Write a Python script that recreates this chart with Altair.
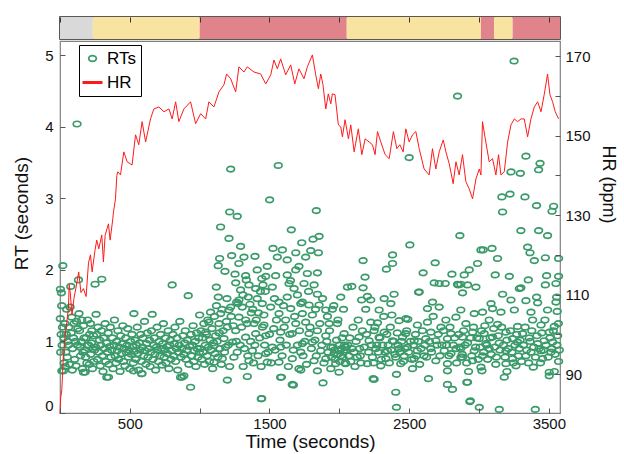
import altair as alt
import pandas as pd

# ---------------- data ----------------
phase_start = [0, 235, 1000, 2053, 3014, 3109, 3241]
phase_end = [235, 1000, 2053, 3014, 3109, 3241, 3580]
phase_name = ["rest", "easy", "hard", "easy", "hard", "easy", "hard"]

hr_time = [0, 5, 13, 22, 35, 48, 60, 66, 72, 86, 100, 122, 134, 150, 168, 187, 204, 218, 230, 250,
           263, 278, 299, 311, 323, 347, 359, 378, 383, 397, 407, 414, 433, 457, 481, 516, 541, 564,
           588, 613, 648, 672, 708, 744, 780, 803, 828, 851, 887, 935, 971, 1007, 1043, 1066, 1102,
           1138, 1174, 1193, 1222, 1258, 1281, 1317, 1341, 1389, 1437, 1473, 1509, 1532, 1556, 1580,
           1616, 1652, 1681, 1711, 1747, 1771, 1807, 1831, 1850, 1867, 1883, 1903, 1921, 1939, 1950,
           1969, 1993, 2010, 2022, 2041, 2065, 2082, 2106, 2136, 2161, 2185, 2213, 2237, 2256, 2273,
           2297, 2328, 2357, 2387, 2412, 2433, 2457, 2476, 2500, 2524, 2548, 2572, 2607, 2643, 2667,
           2691, 2715, 2744, 2763, 2787, 2815, 2835, 2858, 2882, 2906, 2930, 2954, 2978, 3002, 3014,
           3025, 3045, 3073, 3097, 3121, 3140, 3157, 3181, 3205, 3229, 3253, 3276, 3301, 3324, 3348,
           3372, 3396, 3420, 3444, 3467, 3491, 3508, 3527, 3546, 3570]
hr_value = [80, 84, 86, 93, 99, 103, 106.5, 112.5, 111, 104.9, 109, 113.2, 115.7, 110.5, 111.5, 109.5,
            118, 120, 115.7, 121, 123.7, 121.5, 125, 118.2, 124.9, 127.8, 123.7, 129, 130.8, 134, 140,
            140.9, 140.1, 145.9, 143.4, 142.6, 150.2, 147.7, 153.5, 148.4, 154.2, 156.7, 157.2, 156,
            156.7, 154.2, 158.5, 153.5, 156.7, 158.5, 153, 155.5, 154.2, 158.5, 157.2, 161, 162.8,
            165.5, 164.3, 161, 167.3, 166, 167.3, 166, 165.5, 163, 165.3, 169, 166.8, 169.3, 165.3,
            167.8, 163, 166.8, 164.3, 167.3, 170.3, 165.3, 161.8, 165.5, 162.8, 156.7, 160.5, 158,
            160.5, 160.3, 152.7, 152.2, 149.7, 154, 149.2, 152.7, 145.9, 151.7, 145.2, 149.2, 148.4,
            147.7, 145.2, 151, 148.4, 145.2, 144.2, 151, 146.7, 147.7, 145.9, 151.7, 148.4, 150.2, 151,
            146.7, 141.6, 140.1, 146.7, 141.6, 145.9, 148.9, 145.9, 142.9, 137.9, 143.4, 140.1, 145.2,
            138.4, 136.6, 134.1, 139.1, 141.6, 140.1, 153.5, 149.2, 143.4, 144.2, 140.1, 145.2, 140.1,
            140.9, 148.4, 152.7, 154.2, 153.5, 154.2, 154.2, 149.7, 154.2, 157.2, 158.5, 156, 160.3,
            165.5, 160.3, 158.5, 156, 154.2]

# reaction times (time s, RT s), grouped by part of the session
rts_a = [
    (3, 1.73), (10, 1.68), (20, 2.06), (2, 1.32), (8, 1.1), (15, 0.95), (25, 0.59), (30, 0.7), (35, 1.25),
    (42, 0.85), (48, 1.45), (55, 1.0), (62, 1.2), (72, 1.48), (77, 1.77), (84, 1.34), (90, 0.9), (96, 1.05),
    (105, 0.75), (122, 4.04), (118, 1.28), (125, 0.95), (132, 1.86), (136, 1.39), (140, 1.15), (147, 0.8),
    (152, 1.0), (160, 0.62), (168, 1.22), (175, 0.88), (180, 0.57), (186, 1.05), (192, 0.7), (198, 1.3),
    (205, 0.95), (212, 1.1), (220, 0.82), (228, 1.15), (235, 0.9), (242, 0.72), (251, 1.80), (258, 1.38),
    (299, 1.87), (5, 0.85), (12, 1.5), (18, 1.2), (28, 1.05), (38, 0.65), (45, 1.1), (52, 0.78), (60, 0.95),
    (68, 0.68), (80, 1.12), (88, 0.6), (100, 1.25), (110, 1.0), (115, 0.66), (128, 1.18), (144, 0.92),
    (156, 1.3), (164, 0.85), (172, 1.05), (184, 0.78), (196, 0.95), (210, 0.68), (218, 1.25), (225, 0.98),
    (232, 0.62), (240, 1.08), (248, 0.88), (13, 0.59), (168, 0.57), (347, 0.5), (526, 0.59), (586, 0.55),
    (255, 0.92), (262, 1.1), (268, 0.75), (272, 1.2), (278, 0.85), (283, 1.02), (288, 0.66), (292, 0.95),
    (297, 1.15), (303, 0.8), (308, 0.58), (312, 1.05), (318, 0.9), (323, 1.25), (328, 0.72), (333, 0.98),
    (335, 0.5), (340, 0.85), (345, 1.12), (350, 0.68), (355, 0.93), (360, 1.2), (365, 0.78), (370, 0.88),
    (375, 1.05), (380, 0.62), (386, 0.95), (390, 1.3), (395, 0.8), (400, 0.7), (405, 1.0), (410, 0.87),
    (415, 1.15), (420, 0.75), (425, 0.92), (430, 0.58), (435, 1.08), (440, 0.83), (445, 0.97), (450, 1.22),
    (455, 0.72), (460, 0.9), (465, 0.66), (470, 1.05), (475, 0.85), (480, 0.95), (485, 1.18), (490, 0.78),
    (495, 0.88), (500, 0.62), (505, 1.0), (510, 0.82), (515, 1.1), (520, 0.93), (525, 0.7), (529, 1.39),
    (533, 0.86), (538, 1.02), (543, 0.75), (548, 0.95), (553, 1.2), (558, 0.83), (563, 0.6), (568, 0.98),
    (573, 0.88), (578, 1.1), (583, 0.72), (586, 0.55), (590, 0.92), (595, 1.05), (600, 0.8), (605, 1.28),
    (610, 0.87), (615, 0.68), (620, 0.97), (625, 1.12), (630, 0.78), (635, 0.9), (640, 1.02), (645, 0.65),
    (650, 0.85), (655, 1.15), (660, 1.38), (665, 0.75), (670, 0.95), (675, 1.05), (680, 0.82), (685, 0.6),
    (690, 0.92), (695, 1.2), (700, 0.88), (705, 0.72), (710, 1.0), (715, 0.8), (720, 1.1), (725, 0.9),
    (730, 0.67), (735, 0.97), (740, 1.25), (745, 0.78), (750, 0.88), (755, 1.05), (760, 0.7), (765, 0.93),
    (770, 0.83), (775, 1.15), (780, 0.62), (785, 0.95), (790, 1.02), (795, 0.75), (800, 0.87), (803, 1.79),
    (808, 1.1), (813, 0.8), (818, 0.97), (823, 1.2), (828, 0.72), (833, 0.9), (838, 1.05), (843, 0.6),
    (848, 0.85), (853, 0.95), (858, 1.28), (863, 0.5), (868, 0.78), (873, 0.9), (875, 0.5), (880, 1.08),
    (885, 0.82), (887, 0.52), (892, 0.98), (897, 1.15), (902, 0.75), (907, 0.88), (912, 1.02), (918, 1.64),
    (923, 0.68), (928, 0.93), (935, 0.36), (938, 1.1), (943, 0.8), (948, 0.95), (953, 1.22), (958, 0.72),
    (963, 0.87), (968, 1.0), (973, 0.65), (978, 1.12), (983, 0.9), (988, 0.78), (993, 1.05), (998, 0.85),
]
rts_b = [
    (1222, 3.41), (1215, 2.81), (1269, 2.75), (1150, 2.6), (1210, 2.44), (1293, 2.33), (1143, 2.16),
    (1229, 2.2), (1317, 2.18), (1396, 2.19), (1281, 2.09), (1133, 2.06), (1181, 1.98), (1253, 1.94),
    (1329, 1.92), (1412, 2.0), (1119, 1.76), (1133, 1.62), (1258, 1.82), (1334, 1.86), (1353, 1.79),
    (1293, 1.72), (1401, 1.74), (1281, 1.58), (1275, 1.53), (1348, 1.62), (1412, 1.6), (1222, 1.48),
    (1305, 1.48), (1000, 1.37), (1078, 1.41), (1150, 1.39), (1210, 1.44), (1281, 1.34), (1329, 1.3),
    (1389, 1.25), (1066, 1.27), (1138, 1.25), (1198, 1.2), (1258, 1.15), (1329, 1.06), (1401, 1.11),
    (1043, 1.13), (1114, 1.08), (1174, 1.04), (1234, 0.99), (1102, 0.94), (1186, 0.92), (1269, 0.85),
    (1377, 0.87), (1353, 0.73), (1162, 0.76), (1102, 0.71), (1198, 0.46), (1341, 0.51), (1441, 0.2),
    (1563, 3.46), (1501, 2.98), (1835, 2.83), (1656, 2.56), (1812, 2.43), (1855, 2.47), (1525, 2.3),
    (1592, 2.28), (1731, 2.38), (1688, 2.24), (1795, 2.27), (1850, 2.24), (1556, 2.18), (1627, 2.14),
    (1759, 2.18), (1484, 2.05), (1711, 2.05), (1688, 2.0), (1544, 1.92), (1627, 1.93), (1771, 1.95),
    (1843, 1.96), (1473, 1.91), (1640, 1.81), (1747, 1.81), (1819, 1.79), (1520, 1.76), (1453, 1.79),
    (1676, 1.74), (1843, 1.66), (1627, 1.62), (1568, 1.55), (1448, 1.53), (1724, 1.53), (1783, 1.51),
    (1855, 1.51), (1508, 1.48), (1652, 1.46), (1950, 1.45), (2010, 1.62), (2058, 1.76), (1568, 1.39),
    (1460, 1.37), (1735, 1.39), (1807, 1.37), (1903, 1.44), (1616, 1.3), (1688, 1.25), (1759, 1.27),
    (1927, 1.25), (1986, 1.25), (1460, 1.23), (1473, 1.08), (1580, 1.13), (1663, 1.11), (1783, 1.11),
    (1843, 1.15), (1903, 1.08), (2034, 1.11), (1520, 0.92), (1580, 0.92), (1735, 0.97), (1807, 0.99),
    (1867, 0.87), (1939, 0.92), (1998, 0.87), (2046, 0.92), (1962, 0.83), (2010, 0.8), (1473, 0.83),
    (1663, 0.76), (1724, 0.85), (1819, 0.73), (1903, 0.76), (1974, 0.69), (2046, 0.69), (1484, 0.71),
    (1568, 0.71), (1711, 0.62), (1843, 0.59), (1939, 0.62), (1998, 0.57), (1580, 0.5), (1663, 0.4),
    (1883, 0.42), (1444, 0.2), (1724, 0.6), (1671, 0.39), (1585, 0.5),
    (1003, 0.9), (1010, 1.15), (1015, 0.75), (1020, 1.05), (1025, 0.85), (1030, 1.25), (1035, 0.68),
    (1040, 0.95), (1048, 1.1), (1053, 0.8), (1058, 1.3), (1062, 0.92), (1070, 0.72), (1075, 1.02),
    (1082, 0.88), (1088, 1.18), (1093, 0.62), (1098, 0.98), (1106, 1.35), (1110, 0.83), (1125, 1.0),
    (1130, 0.78), (1140, 1.12), (1145, 0.9), (1155, 0.68), (1168, 1.15), (1178, 0.85), (1192, 1.28),
    (1205, 0.95), (1215, 0.65), (1240, 1.22), (1245, 0.78), (1262, 1.0), (1290, 0.95), (1300, 1.2),
    (1312, 0.65), (1320, 0.9), (1340, 1.25), (1345, 0.8), (1365, 1.0), (1370, 1.4), (1385, 0.7),
    (1395, 0.95), (1405, 1.3), (1418, 0.8), (1430, 1.05), (1440, 0.65), (1450, 1.2), (1465, 0.95),
    (1490, 0.85), (1500, 1.1), (1512, 0.7), (1530, 1.18), (1540, 0.88), (1550, 1.3), (1575, 1.02),
    (1590, 0.8), (1605, 1.2), (1620, 0.95), (1635, 0.65), (1645, 1.1), (1670, 0.88), (1680, 1.35),
    (1700, 0.95), (1715, 1.15), (1740, 0.8), (1752, 1.0), (1765, 0.68), (1790, 1.2), (1800, 0.9),
    (1825, 1.02), (1835, 0.8), (1860, 1.25), (1875, 0.95), (1890, 0.7), (1910, 1.0), (1920, 0.85),
    (1930, 1.15), (1945, 0.78), (1955, 0.92), (1965, 0.88), (1970, 0.75), (1980, 1.02), (1990, 0.82),
    (2000, 0.95), (2005, 0.72), (2015, 0.9), (2020, 1.05), (2025, 0.78), (2030, 0.85), (2038, 0.95),
    (2042, 0.7), (2050, 0.88), (1120, 1.5), (1160, 1.45), (1195, 1.6), (1225, 1.35), (1265, 1.55),
    (1310, 1.65), (1360, 1.52), (1380, 1.45), (1420, 1.4), (1435, 1.7), (1445, 1.88), (1470, 1.7),
    (1535, 1.6), (1600, 1.5), (1650, 1.85), (1700, 1.65), (1735, 1.55), (1780, 1.7), (1830, 1.45),
    (1880, 1.6), (1915, 1.35), (1960, 1.5), (1990, 1.3), (2030, 1.45),
]
rts_c = [
    (2500, 3.57), (2846, 4.43), (2505, 2.35), (2863, 2.48), (2170, 2.13), (2381, 2.21), (2381, 2.09),
    (2337, 2.01), (2686, 2.1), (2184, 1.9), (2600, 1.96), (2806, 1.94), (2170, 1.75), (2679, 1.82),
    (2715, 1.81), (2758, 1.81), (2846, 1.8), (2567, 1.69), (2392, 1.66), (2201, 1.63), (2321, 1.6),
    (2225, 1.58), (2160, 1.58), (2369, 1.53), (2667, 1.55), (2189, 1.45), (2285, 1.44), (2376, 1.37),
    (2631, 1.46), (2715, 1.48), (2476, 1.32), (2428, 1.29), (2490, 1.31), (2225, 1.27), (2273, 1.26),
    (2631, 1.27), (2763, 1.3), (2835, 1.34), (2165, 1.15), (2249, 1.15), (2321, 1.13), (2476, 1.11),
    (2559, 1.23), (2655, 1.13), (2727, 1.2), (2799, 1.11), (2141, 1.06), (2213, 1.01), (2285, 1.06),
    (2380, 1.01), (2452, 1.06), (2536, 1.01), (2619, 1.04), (2691, 1.01), (2774, 1.04), (2177, 0.92),
    (2261, 0.9), (2344, 0.87), (2428, 0.9), (2488, 0.92), (2559, 0.87), (2655, 0.9), (2751, 0.87),
    (2835, 0.9), (2150, 0.8), (2237, 0.78), (2333, 0.76), (2404, 0.78), (2464, 0.8), (2536, 0.76),
    (2607, 0.8), (2691, 0.73), (2799, 0.83), (2870, 0.78), (2201, 0.69), (2297, 0.66), (2440, 0.69),
    (2524, 0.62), (2774, 0.69), (2774, 0.59), (2249, 0.47), (2409, 0.54), (2638, 0.48), (2774, 0.4),
    (2810, 0.33), (2404, 0.29), (2409, 0.08), (2242, 0.48), (2913, 0.43), (2935, 0.16), (2089, 1.77),
    (2572, 1.69), (2853, 1.79),
    (2060, 0.95), (2068, 0.8), (2075, 1.05), (2082, 0.72), (2090, 0.9), (2098, 1.2), (2105, 0.85),
    (2112, 0.65), (2120, 1.0), (2128, 0.78), (2135, 1.3), (2145, 0.9), (2155, 0.7), (2195, 1.1),
    (2210, 0.85), (2230, 0.95), (2245, 0.7), (2255, 1.2), (2268, 0.95), (2280, 0.85), (2290, 1.05),
    (2300, 0.75), (2310, 0.95), (2318, 1.35), (2328, 0.85), (2340, 1.1), (2350, 0.95), (2358, 0.7),
    (2365, 1.2), (2372, 0.88), (2390, 1.0), (2398, 0.82), (2415, 1.12), (2420, 0.95), (2435, 0.85),
    (2445, 1.0), (2458, 0.72), (2470, 0.9), (2482, 1.15), (2495, 0.85), (2510, 1.0), (2518, 0.75),
    (2530, 0.95), (2545, 1.1), (2552, 0.8), (2565, 1.0), (2575, 0.68), (2585, 0.9), (2595, 1.15),
    (2612, 0.95), (2625, 0.78), (2645, 1.0), (2660, 0.85), (2672, 1.35), (2700, 0.95), (2708, 1.1),
    (2720, 0.8), (2735, 0.95), (2745, 1.15), (2768, 0.95), (2785, 0.8), (2792, 1.2), (2815, 0.95),
    (2825, 1.05), (2840, 0.7), (2855, 1.1), (2862, 0.92), (2880, 0.82), (2890, 1.15), (2900, 0.95),
    (2912, 0.7), (2940, 1.05), (2948, 0.8), (2960, 1.2), (2975, 0.92), (2985, 1.05), (2995, 0.75),
]
rts_d = [
    (3251, 4.92), (3336, 3.59), (3437, 3.49), (3427, 3.4), (3229, 3.37), (3296, 3.35), (3164, 3.02),
    (3222, 3.06), (3329, 3.02), (3412, 2.9), (3534, 2.89), (3523, 2.82), (3169, 2.81), (3300, 2.55),
    (3427, 2.55), (3491, 2.48), (3348, 2.32), (3365, 2.24), (3014, 2.28), (3030, 2.28), (3093, 2.3),
    (3133, 2.16), (3396, 2.13), (3475, 2.17), (3570, 2.16), (2990, 2.09), (2930, 2.0), (2894, 1.93),
    (3116, 1.93), (3217, 1.91), (3353, 1.86), (3484, 1.92), (3570, 1.91), (2978, 1.76), (2918, 1.79),
    (2870, 1.8), (3289, 1.74), (3300, 1.75), (3475, 1.79), (3551, 1.81), (3169, 1.66), (3412, 1.62),
    (2882, 1.68), (3556, 1.62), (3086, 1.53), (3229, 1.58), (3336, 1.57), (3420, 1.54), (3551, 1.55),
    (2870, 1.44), (2966, 1.39), (3025, 1.41), (3097, 1.46), (3157, 1.41), (3253, 1.44), (3372, 1.41),
    (3491, 1.44), (3560, 1.42), (2906, 1.25), (3073, 1.3), (3133, 1.24), (3276, 1.21), (3384, 1.3),
    (3444, 1.23), (3539, 1.21), (2954, 1.13), (3037, 1.11), (3193, 1.13), (3312, 1.11), (3503, 1.13),
    (2882, 1.06), (3002, 1.04), (3097, 1.06), (3240, 1.04), (3360, 1.05), (3467, 1.01), (3563, 1.08),
    (2918, 0.98), (3049, 0.97), (3145, 0.98), (3276, 0.99), (3420, 0.97), (3527, 0.99), (2870, 0.9),
    (2966, 0.87), (3073, 0.9), (3193, 0.87), (3289, 0.9), (3372, 0.85), (3444, 0.87), (3516, 0.85),
    (2882, 0.78), (3025, 0.8), (3125, 0.78), (3240, 0.76), (3336, 0.8), (3455, 0.76), (3570, 0.72),
    (2954, 0.73), (3193, 0.69), (3265, 0.66), (3389, 0.64), (3014, 0.64), (3021, 0.59), (3200, 0.58),
    (3503, 0.57), (3539, 0.58), (2925, 0.58), (3181, 0.5), (2918, 0.43), (3503, 0.52), (2937, 0.17),
    (3002, 0.08), (3145, 0.05), (3403, 0.05),
    (3008, 0.92), (3018, 1.15), (3033, 0.85), (3042, 1.22), (3055, 0.95), (3062, 0.75), (3080, 1.05),
    (3088, 0.82), (3105, 1.18), (3112, 0.92), (3120, 0.68), (3138, 1.08), (3150, 0.88), (3162, 1.2),
    (3175, 0.95), (3187, 0.78), (3200, 1.02), (3210, 0.9), (3225, 1.15), (3235, 0.85), (3247, 0.7),
    (3258, 0.95), (3270, 1.1), (3282, 0.8), (3295, 1.02), (3305, 0.72), (3318, 0.95), (3330, 1.2),
    (3342, 0.88), (3355, 0.7), (3366, 1.0), (3378, 1.15), (3392, 0.92), (3405, 0.78), (3415, 1.08),
    (3430, 0.9), (3440, 0.7), (3450, 1.12), (3462, 0.88), (3472, 1.3), (3480, 0.95), (3495, 0.78),
    (3508, 1.05), (3520, 0.9), (3532, 1.15), (3545, 0.82), (3558, 0.95), (3568, 1.25), (3575, 0.88),
]

# ---------------- styling ----------------
FONT = "Liberation Sans"
GREEN = "#3a9a6a"
RED = "#ff1a1a"
GRAY = "#d9d9d9"
YELLOW = "#f8e4a0"
PINK = "#e0838a"
ELLIPSE = "M -1 0 A 1 0.72 0 1 0 1 0 A 1 0.72 0 1 0 -1 0 Z"
LEG_ELLIPSE = "M -0.38 0 A 0.38 0.28 0 1 0 0.38 0 A 0.38 0.28 0 1 0 -0.38 0 Z"

rt_df = pd.DataFrame(rts_a + rts_b + rts_c + rts_d, columns=["time", "rt"])
rt_df["series"] = "RTs"
hr_df = pd.DataFrame({"time": hr_time, "hr": hr_value})
hr_df["series"] = "HR"
band_df = pd.DataFrame({"start": phase_start, "end": phase_end, "phase": phase_name})

xs = alt.Scale(domain=[0, 3580], nice=False, zero=False)
x_ticks = list(range(0, 3501, 500))

color_scale = alt.Scale(domain=["RTs", "HR"], range=[GREEN, RED])
legend = alt.Legend(
    title=None, orient="none", legendX=19, legendY=28,
    fillColor="white", strokeColor="black", padding=5, rowPadding=6,
    labelFont=FONT, labelFontSize=17, labelColor="black", labelOffset=6,
    symbolType=alt.ExprRef(expr=f"datum.value === 'HR' ? 'stroke' : '{LEG_ELLIPSE}'"),
    symbolSize=400,
    symbolStrokeWidth=alt.ExprRef(expr="datum.value === 'HR' ? 3 : 1.8"),
)

pts = alt.Chart(rt_df).mark_point(
    shape=ELLIPSE, size=58, filled=False, strokeWidth=1.7, opacity=1
).encode(
    x=alt.X("time:Q", scale=xs, axis=alt.Axis(
        title="Time (seconds)", values=x_ticks, format="d",
        labelExpr="datum.value % 1000 === 500 ? datum.label : ''",
        tickSize=5, offset=-5, domain=False, grid=False, labelPadding=3, titlePadding=1,
        zindex=1)),
    y=alt.Y("rt:Q", scale=alt.Scale(domain=[0, 5.2], nice=False, zero=False), axis=alt.Axis(
        title="RT (seconds)", orient="left", values=[0, 1, 2, 3, 4, 5], labelFlush=True,
        tickSize=5, offset=-5, domain=False, grid=False, labelPadding=7, titlePadding=13,
        titleY=172, zindex=1)),
    color=alt.Color("series:N", scale=color_scale, legend=legend),
)

line = alt.Chart(hr_df).mark_line(strokeWidth=1).encode(
    x=alt.X("time:Q", scale=xs),
    y=alt.Y("hr:Q", scale=alt.Scale(domain=[80.2, 173.8], nice=False, zero=False), axis=alt.Axis(
        title="HR (bpm)", orient="right", values=list(range(90, 171, 10)),
        labelExpr="datum.value % 20 === 10 ? datum.label : ''",
        tickSize=5, offset=-5, domain=False, grid=False, labelPadding=5, titlePadding=8,
        titleY=143, titleFontSize=18, zindex=1)),
    color=alt.Color("series:N", scale=color_scale, legend=legend),
)

main = alt.layer(pts, line).resolve_scale(y="independent").properties(
    width=500, height=372, view=alt.ViewBackground(stroke="#808080", strokeWidth=1.2)
)

band = alt.Chart(band_df).mark_rect().encode(
    x=alt.X("start:Q", scale=xs, axis=alt.Axis(
        orient="top", title=None, labels=False, values=x_ticks, tickSize=5, offset=-5,
        domain=False, grid=False, zindex=1, tickColor="#333333")),
    x2="end:Q",
    fill=alt.Fill("phase:N", scale=alt.Scale(domain=["rest", "easy", "hard"],
                                             range=[GRAY, YELLOW, PINK]), legend=None),
).properties(width=500, height=22, view=alt.ViewBackground(stroke="#222222", strokeWidth=1.5))

chart = alt.vconcat(band, main, spacing=2, bounds="flush").properties(
    padding={"left": 12, "top": 15, "right": 6, "bottom": 0}
).configure_axis(
    labelFont=FONT, titleFont=FONT, labelFontSize=15, titleFontSize=19,
    titleFontWeight="normal", labelColor="#111111", titleColor="#111111", tickColor="#555555"
)

chart.save("out.html", embed_options={"renderer": "svg", "actions": False})
